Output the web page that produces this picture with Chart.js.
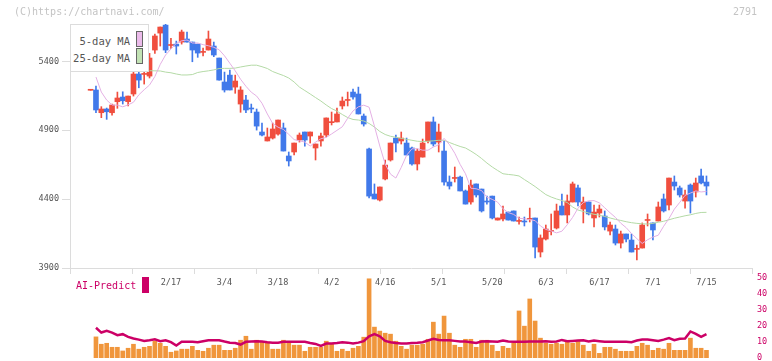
<!DOCTYPE html>
<html>
<head>
<meta charset="utf-8">
<script src="https://cdn.jsdelivr.net/npm/chart.js"></script>
<style>
html, body { margin: 0; padding: 0; background: #fff; }
#wrap { position: relative; width: 772px; height: 361px; overflow: hidden; font-family: 'DejaVu Sans Mono', monospace; }
canvas { position: absolute; left: 0; }
#priceChart { top: 0; }
#volChart { top: 262px; }
.txt { position: absolute; font-size: 10px; line-height: 12px; white-space: nowrap; }
#legendBox { position: absolute; left: 70px; top: 24px; width: 79px; height: 48px; box-sizing: border-box; border: 1px solid #dcdcdc; background: #fff; }
.sw { position: absolute; width: 7px; height: 16px; box-sizing: border-box; border: 1px solid #666; }
</style>
</head>
<body>
<div id="wrap">
  <canvas id="priceChart" width="772" height="301"></canvas>
  <canvas id="volChart" width="772" height="110"></canvas>
  <div class="txt" style="left:14px;top:6px;color:#c4c4c4;">(C)https://chartnavi.com/</div>
  <div class="txt" style="left:733px;top:6px;color:#c4c4c4;">2791</div>
  <div id="legendBox">
    <div class="txt" style="right:18px;top:10px;color:#555;font-size:10.5px;">5-day MA</div>
    <div class="sw" style="left:65px;top:6px;background:#ebbbea;"></div>
    <div class="txt" style="right:18px;top:27px;color:#555;font-size:10.5px;">25-day MA</div>
    <div class="sw" style="left:65px;top:23px;background:#c2e2b4;"></div>
  </div>
  <div class="txt" style="left:76px;top:280px;color:#cc0066;">AI-Predict</div>
  <div style="position:absolute;left:142px;top:277px;width:7px;height:16px;background:#cc0066;"></div>
</div>
<script>
// daily candles, index 0 = oldest
var opens = [
  5190, 5192, 5027, 5054, 5027, 5107, 5141, 5107, 5163, 5308,
  5305, 5293, 5482, 5605, 5663, 5515, 5525, 5540, 5562, 5540,
  5525, 5465, 5482, 5511, 5424, 5250, 5300, 5213, 5090, 5119,
  5059, 5032, 4887, 4822, 4843, 4872, 4916, 4713, 4742, 4829,
  4887, 4858, 4771, 4822, 4865, 4955, 4960, 5076, 5116, 5177,
  5163, 5003, 4764, 4437, 4393, 4546, 4684, 4843, 4822, 4807,
  4771, 4655, 4705, 4822, 4960, 4814, 4749, 4524, 4550, 4560,
  4459, 4379, 4510, 4473, 4382, 4422, 4248, 4256, 4306, 4314,
  4238, 4237, 4253, 4263, 4016, 4110, 4165, 4190, 4350, 4285,
  4379, 4481, 4328, 4379, 4263, 4299, 4277, 4168, 4183, 4081,
  4147, 4103, 4035, 4045, 4245, 4227, 4241, 4401, 4357, 4524,
  4481, 4386, 4502, 4452, 4568, 4524
];
var highs = [
  5192, 5221, 5071, 5061, 5090, 5177, 5179, 5148, 5322, 5322,
  5337, 5458, 5598, 5649, 5671, 5567, 5547, 5627, 5613, 5540,
  5525, 5497, 5620, 5540, 5424, 5322, 5337, 5300, 5216, 5153,
  5090, 5054, 4952, 4916, 4952, 4974, 4952, 4742, 4807, 4880,
  4887, 4887, 4800, 4880, 4989, 5032, 5061, 5141, 5177, 5199,
  5213, 5018, 4771, 4510, 4488, 4684, 4807, 4865, 4887, 4843,
  4778, 4764, 4836, 4960, 4996, 4945, 4822, 4568, 4633, 4568,
  4466, 4539, 4510, 4473, 4422, 4422, 4263, 4350, 4306, 4314,
  4270, 4270, 4335, 4263, 4140, 4212, 4292, 4364, 4437, 4430,
  4524, 4502, 4415, 4379, 4357, 4357, 4314, 4234, 4212, 4168,
  4147, 4147, 4067, 4227, 4292, 4227, 4379, 4437, 4553, 4568,
  4495, 4466, 4510, 4553, 4618, 4568
];
var lows = [
  5190, 5027, 4991, 4979, 5010, 5059, 5090, 5076, 5148, 5208,
  5235, 5279, 5458, 5511, 5463, 5494, 5453, 5525, 5540, 5397,
  5429, 5439, 5482, 5434, 5264, 5177, 5192, 5168, 5030, 5027,
  5027, 4901, 4858, 4822, 4836, 4865, 4749, 4640, 4720, 4814,
  4785, 4807, 4684, 4785, 4851, 4938, 4960, 5054, 5076, 5126,
  5018, 4930, 4408, 4401, 4386, 4539, 4676, 4742, 4800, 4720,
  4647, 4611, 4705, 4807, 4785, 4742, 4502, 4473, 4524, 4459,
  4364, 4364, 4415, 4306, 4364, 4256, 4248, 4241, 4248, 4241,
  4219, 4205, 4234, 3973, 3980, 4103, 4140, 4183, 4285, 4227,
  4379, 4350, 4227, 4285, 4198, 4270, 4176, 4140, 4067, 4045,
  4089, 4016, 3958, 4045, 4205, 4103, 4241, 4306, 4321, 4466,
  4415, 4335, 4299, 4415, 4510, 4430
];
var closes = [
  5192, 5047, 5054, 5034, 5083, 5134, 5114, 5148, 5308, 5264,
  5308, 5424, 5584, 5649, 5482, 5518, 5511, 5613, 5540, 5482,
  5460, 5468, 5562, 5446, 5264, 5192, 5192, 5257, 5192, 5047,
  5054, 4930, 4865, 4851, 4909, 4974, 4749, 4677, 4807, 4865,
  4829, 4887, 4800, 4858, 4989, 4960, 5018, 5112, 5119, 5141,
  5018, 4945, 4422, 4401, 4488, 4647, 4807, 4807, 4843, 4720,
  4655, 4749, 4807, 4960, 4800, 4887, 4524, 4495, 4553, 4459,
  4364, 4502, 4430, 4314, 4379, 4263, 4263, 4292, 4248, 4241,
  4241, 4234, 4256, 4052, 4118, 4183, 4168, 4314, 4285, 4386,
  4510, 4379, 4379, 4292, 4306, 4328, 4198, 4212, 4081, 4147,
  4110, 4016, 4038, 4212, 4248, 4176, 4343, 4314, 4553, 4495,
  4430, 4430, 4386, 4517, 4517, 4495
];
var ma5 = [
  null, 5286, 5177, 5119, 5083, 5082, 5070, 5084, 5103, 5157,
  5194, 5228, 5290, 5378, 5446, 5489, 5531, 5549, 5555, 5533,
  5533, 5521, 5513, 5502, 5484, 5440, 5386, 5331, 5270, 5219,
  5176, 5148, 5096, 5018, 4949, 4922, 4906, 4870, 4832, 4823,
  4814, 4785, 4813, 4838, 4848, 4873, 4899, 4925, 4987, 5040,
  5070, 5082, 5067, 4929, 4785, 4655, 4581, 4553, 4630, 4718,
  4765, 4766, 4755, 4755, 4778, 4794, 4841, 4796, 4733, 4652,
  4584, 4479, 4475, 4462, 4414, 4398, 4378, 4330, 4302, 4289,
  4261, 4257, 4251, 4244, 4205, 4180, 4169, 4155, 4167, 4214,
  4267, 4333, 4375, 4388, 4389, 4373, 4337, 4301, 4267, 4225,
  4193, 4150, 4113, 4078, 4105, 4125, 4138, 4203, 4259, 4327,
  4376, 4427, 4444, 4459, 4452, 4456
];
var ma25 = [
  null, null, null, null, null, null, null, null, null, null,
  null, 5332, 5331, 5330, 5322, 5317, 5308, 5301, 5301, 5304,
  5319, 5326, 5331, 5338, 5348, 5349, 5349, 5351, 5359, 5366,
  5372, 5372, 5361, 5348, 5326, 5311, 5297, 5279, 5250, 5213,
  5188, 5163, 5137, 5112, 5083, 5057, 5039, 5014, 4992, 4978,
  4974, 4967, 4949, 4923, 4891, 4869, 4856, 4849, 4841, 4834,
  4827, 4820, 4818, 4820, 4823, 4827, 4827, 4811, 4796, 4782,
  4771, 4749, 4724, 4695, 4662, 4633, 4608, 4584, 4579, 4575,
  4568, 4542, 4517, 4491, 4462, 4433, 4415, 4401, 4390, 4375,
  4343, 4321, 4310, 4299, 4290, 4283, 4274, 4263, 4253, 4245,
  4236, 4229, 4224, 4221, 4219, 4224, 4232, 4239, 4250, 4261,
  4270, 4279, 4286, 4296, 4303, 4304
];
var volume = [
  null, 13.2, 8.6, 9.2, 6.7, 6.7, 4.4, 6.1, 8.6, 5.5,
  6.7, 7.3, 10.5, 9.2, 7.3, 3.6, 4.4, 5.5, 5.5, 7.3,
  4.8, 4.2, 6.1, 8.0, 8.0, 4.8, 4.8, 6.1, 11.1, 13.6,
  5.5, 11.1, 9.9, 9.9, 5.5, 5.5, 11.1, 9.9, 8.0, 8.0,
  4.2, 6.7, 6.7, 6.7, 10.5, 9.2, 4.2, 5.5, 4.2, 6.1,
  7.3, 13.0, 49.5, 19.3, 16.8, 15.5, 14.9, 10.5, 7.3, 5.5,
  8.0, 8.0, 8.6, 11.7, 22.4, 14.9, 26.2, 15.5, 8.0, 6.7,
  11.7, 11.7, 6.7, 11.1, 11.1, 8.0, 4.2, 7.3, 6.1, 9.2,
  29.4, 19.9, 36.9, 23.1, 12.4, 9.2, 8.6, 9.2, 8.6, 10.5,
  9.2, 10.5, 8.0, 4.2, 8.6, 2.9, 6.7, 6.7, 5.5, 4.2,
  4.2, 4.2, 7.3, 9.2, 8.0, 4.8, 6.1, 5.5, 9.2, 4.8,
  4.8, 4.8, 12.4, 6.1, 6.1, 4.8
];
var aiPredict = [
  null, 18.9, 15.9, 17.0, 15.9, 14.3, 14.9, 13.2, 12.2, 11.5,
  10.7, 11.1, 11.7, 10.5, 11.1, 9.9, 7.8, 10.1, 10.1, 10.1,
  9.9, 10.5, 11.1, 11.1, 11.1, 10.3, 9.6, 9.4, 8.4, 10.1,
  10.3, 10.5, 10.3, 9.9, 9.6, 9.6, 10.1, 10.1, 10.1, 10.1,
  10.1, 9.4, 8.8, 7.5, 9.0, 9.0, 9.4, 9.9, 9.6, 9.0,
  9.6, 10.5, 13.6, 14.9, 13.6, 10.7, 9.9, 9.4, 9.0, 9.0,
  9.4, 9.6, 9.9, 10.9, 12.0, 11.3, 11.1, 11.1, 10.7, 10.3,
  10.3, 9.9, 9.4, 10.3, 10.5, 10.3, 10.1, 10.9, 10.3, 10.1,
  10.1, 10.1, 10.3, 10.3, 10.3, 10.5, 10.1, 10.3, 11.3, 10.5,
  10.7, 10.9, 11.1, 10.3, 10.9, 10.5, 10.1, 10.1, 10.1, 10.1,
  10.1, 9.9, 10.9, 11.5, 11.5, 11.1, 10.7, 11.5, 12.4, 11.1,
  12.0, 12.2, 16.6, 15.1, 13.2, 14.9
];
var dateLabels = ['2/17', '3/4', '3/18', '4/2', '4/16', '5/1', '5/20', '6/3', '6/17', '7/1', '7/15'];
var dateLabelIdx = [15, 25, 35, 45, 55, 65, 75, 85, 95, 105, 115];
var priceTicks = [3900, 4400, 4900, 5400];
var aiTicks = [0, 10, 20, 30, 40, 50];

var RED = '#f04e3e', BLUE = '#4179ea';
var X_MIN = -3.85, X_MAX = 123.5;
var GRID = '#dcdcdc';
var monoFont = { family: "'DejaVu Sans Mono', monospace", size: 8.5 };

var candleColors = closes.map(function(c, i) { return c >= opens[i] ? RED : BLUE; });
function pts(arr) { return arr.map(function(v, i) { return { x: i, y: v }; }); }

new Chart(document.getElementById('priceChart').getContext('2d'), {
    type: 'bar',
    data: {
        datasets: [
            { type: 'line', label: '5-day MA', data: pts(ma5), borderColor: '#e4b0e4', borderWidth: 1, pointRadius: 0, tension: 0, order: 0 },
            { type: 'line', label: '25-day MA', data: pts(ma25), borderColor: '#b4daa6', borderWidth: 1, pointRadius: 0, tension: 0, order: 0 },
            { label: 'body', data: opens.map(function(o, i) { return { x: i, y: [o, closes[i]] }; }),
              backgroundColor: candleColors, barThickness: 5, minBarLength: 1, grouped: false, order: 1 },
            { label: 'wick', data: lows.map(function(l, i) { return { x: i, y: [l, highs[i]] }; }),
              backgroundColor: candleColors, barThickness: 1, grouped: false, order: 2 }
        ]
    },
    options: {
        responsive: false,
        animation: false,
        events: [],
        layout: { padding: { top: 24, right: 20, left: 0, bottom: 0 } },
        plugins: { legend: { display: false }, tooltip: { enabled: false } },
        scales: {
            x: {
                type: 'linear', min: X_MIN, max: X_MAX, offset: false,
                afterFit: function(s) { s.height = 33; },
                afterBuildTicks: function(s) {
                    var t = [];
                    for (var k = 0; k <= 11; k++) t.push({ value: X_MIN + k * (X_MAX - X_MIN) / 11 });
                    dateLabelIdx.forEach(function(v) { t.push({ value: v }); });
                    t.sort(function(a, b) { return a.value - b.value; });
                    s.ticks = t;
                },
                grid: {
                    drawOnChartArea: false, offset: false, tickLength: 6,
                    color: function(c) { return (c.tick && dateLabelIdx.indexOf(c.tick.value) >= 0) ? 'rgba(0,0,0,0)' : GRID; }
                },
                border: { color: GRID },
                ticks: {
                    autoSkip: false, maxRotation: 0, padding: 4, color: '#555', font: monoFont,
                    callback: function(v) { var k = dateLabelIdx.indexOf(v); return k >= 0 ? dateLabels[k] : ''; }
                }
            },
            y: {
                min: 3900, max: 5671,
                afterFit: function(s) { s.width = 70; },
                afterBuildTicks: function(s) { s.ticks = priceTicks.map(function(v) { return { value: v }; }); },
                grid: { drawOnChartArea: false, tickLength: 8, color: GRID },
                border: { color: GRID },
                ticks: { padding: 3, color: '#555', font: monoFont, callback: function(v) { return String(v); } }
            }
        }
    }
});

new Chart(document.getElementById('volChart').getContext('2d'), {
    type: 'bar',
    data: {
        datasets: [
            { type: 'line', label: 'AI-Predict', data: pts(aiPredict), borderColor: '#cc0066', borderWidth: 2.5, pointRadius: 0, tension: 0, order: 0 },
            { label: 'volume', data: pts(volume), backgroundColor: '#f0963c', barThickness: 4, grouped: false, order: 1 }
        ]
    },
    options: {
        responsive: false,
        animation: false,
        events: [],
        layout: { padding: { top: 16, right: 0, left: 70, bottom: 14 } },
        plugins: { legend: { display: false }, tooltip: { enabled: false } },
        scales: {
            x: { type: 'linear', min: X_MIN, max: X_MAX, offset: false, display: false },
            y: {
                position: 'right', min: 0, max: 50,
                afterFit: function(s) { s.width = 20; },
                afterBuildTicks: function(s) { s.ticks = aiTicks.map(function(v) { return { value: v }; }); },
                grid: { display: false, drawTicks: false },
                border: { display: false },
                ticks: { padding: 5, color: '#cc0066', font: monoFont }
            }
        }
    }
});
</script>
</body>
</html>
